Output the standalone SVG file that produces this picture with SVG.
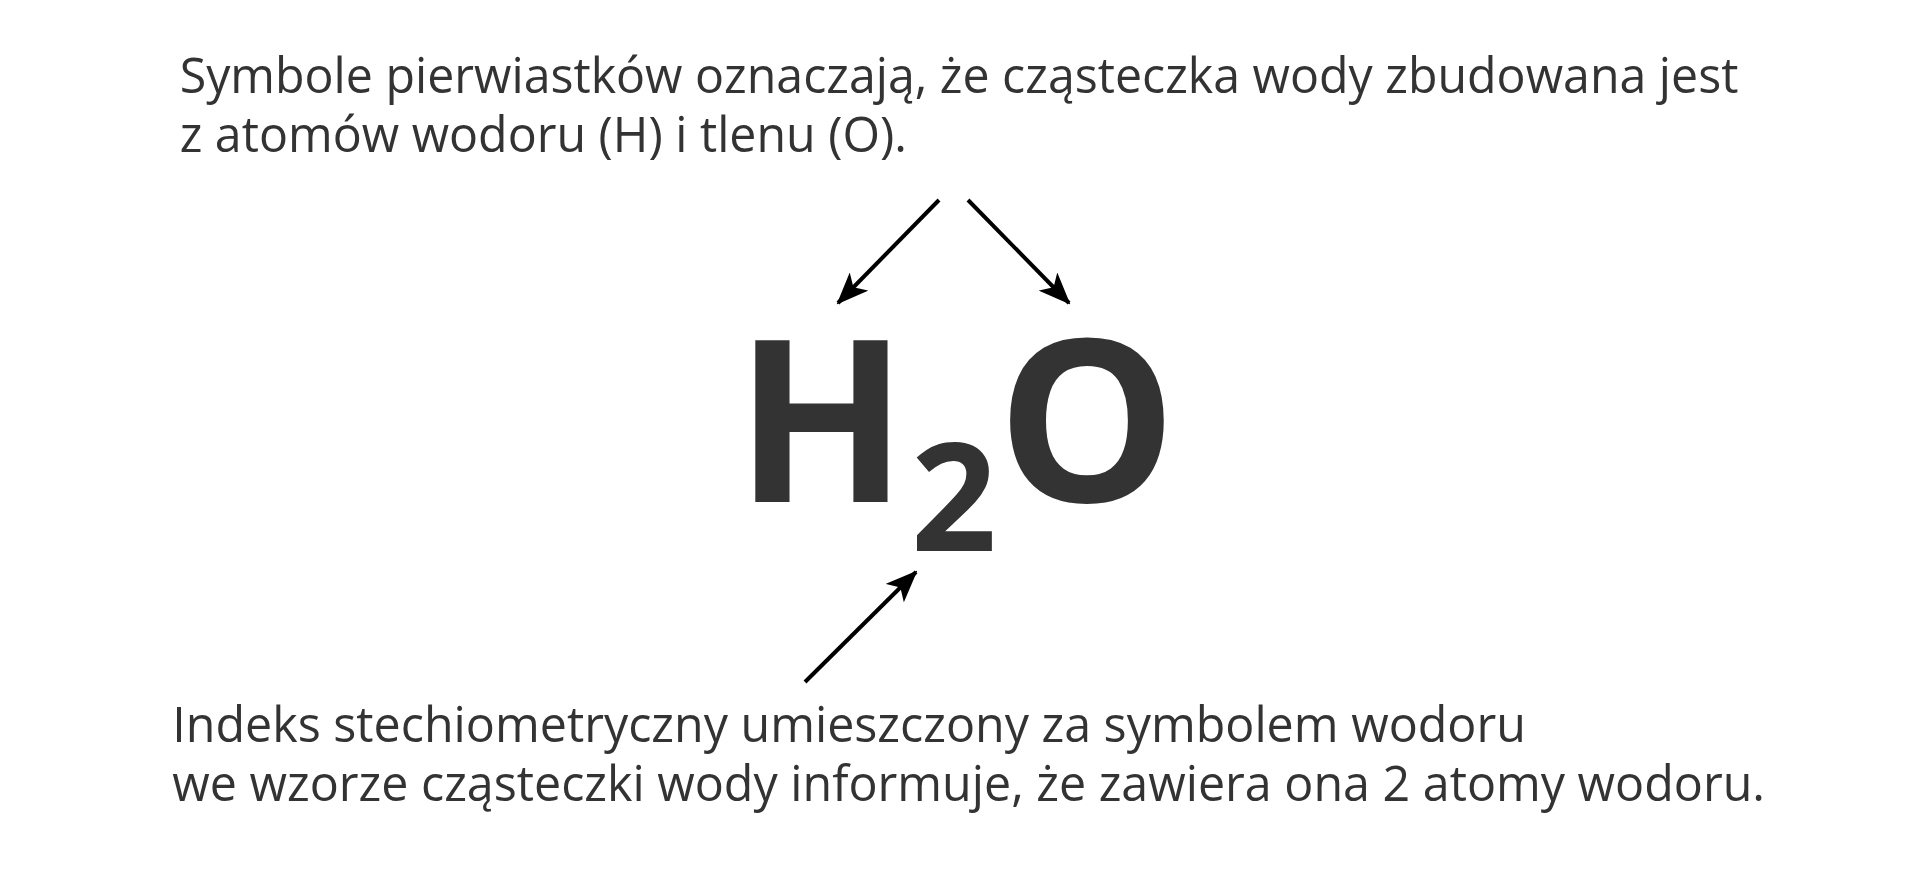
<svg xmlns="http://www.w3.org/2000/svg" width="1920" height="883" viewBox="0 0 1920 883">
<style>
.t{font-family:"Open Sans","Liberation Sans",sans-serif;font-size:50px;fill:#333333}
.f{font-family:"Open Sans","Liberation Sans",sans-serif;font-weight:700;fill:#333333}
.c{stroke:#000;stroke-width:4;fill:none}
</style>
<defs>
<marker id="ah" viewBox="0 0 32 26" refX="30" refY="13" markerWidth="32" markerHeight="26" markerUnits="userSpaceOnUse" orient="auto">
<path d="M0,0 L32,13 L0,26 L8,13 Z" fill="#000"/>
</marker>
</defs>
<rect width="1920" height="883" fill="#fff"/>
<g id="top-text" transform="scale(0.966 1)">
<text class="t" x="186" y="93">Symbole pierwiastków oznaczają, że cząsteczka wody zbudowana jest</text>
<text class="t" x="186" y="152">z atomów wodoru (H) i tlenu (O).</text>
</g>
<g id="formula">
<text class="f" x="735" y="502" font-size="226">H</text>
<text class="f" x="911" y="551" font-size="150">2</text>
<text class="f" x="997" y="502" font-size="226">O</text>
</g>
<g id="bottom-text" transform="scale(0.968 1)">
<text class="t" x="178" y="742">Indeks stechiometryczny umieszczony za symbolem wodoru</text>
<text class="t" x="178" y="801">we wzorze cząsteczki wody informuje, że zawiera ona 2 atomy wodoru.</text>
</g>
<g id="connectors">
<line class="c" x1="939" y1="200" x2="838" y2="303" marker-end="url(#ah)"/>
<line class="c" x1="968" y1="200" x2="1069" y2="303" marker-end="url(#ah)"/>
<line class="c" x1="805" y1="682" x2="916" y2="572" marker-end="url(#ah)"/>
</g>
</svg>
